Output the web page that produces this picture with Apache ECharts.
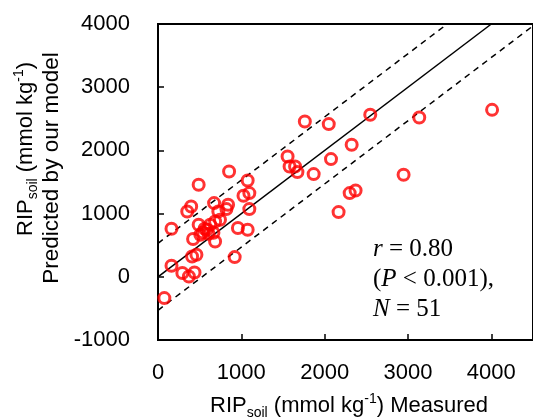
<!DOCTYPE html>
<html><head><meta charset="utf-8">
<script src="https://cdn.jsdelivr.net/npm/echarts@6/dist/echarts.min.js"></script>
<style>html,body{margin:0;padding:0;background:#fff}#c{width:533px;height:420px}</style>
</head><body><div id="c"></div>
<script>
// Measured vs predicted RIP_soil (mmol kg-1)
const measured = [1762,2049,2547,3135,4009,2324,1555,1579,1645,1673,1868,2076,2947,2300,2371,2167,
  853,488,1076,1026,1096,1096,398,351,673,841,821,724,162,488,626,685,744,959,1076,586,508,421,559,606,
  665,685,409,461,920,162,292,371,438,76,540];
const predicted = [2457,2416,2563,2521,2642,2089,1903,1745,1745,1657,1625,1862,1614,1324,1366,1024,
  1666,1456,1524,1282,1324,1071,1112,1033,1166,1139,1071,1033,760,823,823,875,902,771,744,744,665,597,760,680,
  696,559,321,348,312,174,59,5,68,-337,700];
const oneToOne = [[0,0],[4000,4000]];
const upperBound = [[0,530],[3470,4000]];
const lowerBound = [[0,-530],[4500,3970]];
const xTickValues = [0,1000,2000,3000,4000];
const yTickValues = [-1000,0,1000,2000,3000,4000];
const statR = '0.80', statP = '0.001', statN = '51';

const sans = '"Liberation Sans", Arial, sans-serif';
const serif = '"Liberation Serif", "Times New Roman", serif';
const pts = measured.map((m,i)=>[m, predicted[i]]);
const chart = echarts.init(document.getElementById('c'), null, {renderer:'canvas'});
const titleRich = {
  m:{fontSize:22, fontFamily:sans, color:'#000'},
  sub:{fontSize:14, fontFamily:sans, color:'#000', padding:[14,0,0,0]},
  sup:{fontSize:14, fontFamily:sans, color:'#000', padding:[0,0,14,0]}
};
const statRich = {
  t:{fontSize:25, fontFamily:serif, color:'#000'},
  i:{fontSize:25, fontFamily:serif, color:'#000', fontStyle:'italic'}
};
chart.setOption({
  animation:false,
  backgroundColor:'#fff',
  grid:{left:158, right:-8, top:24, bottom:80, show:true, borderColor:'#000', borderWidth:2, backgroundColor:'transparent'},
  xAxis:{type:'value', min:0, max:4500, interval:1000,
    axisLine:{onZero:false, lineStyle:{color:'#000', width:2}},
    axisTick:{inside:true, length:6, lineStyle:{color:'#000', width:1.5}},
    splitLine:{show:false},
    axisLabel:{color:'#000', fontSize:22, fontFamily:sans, margin:22, showMaxLabel:false,
      formatter:v=> xTickValues.includes(v) ? String(v) : ''}},
  yAxis:{type:'value', min:-1000, max:4000, interval:1000,
    axisLine:{onZero:false, lineStyle:{color:'#000', width:2}},
    axisTick:{inside:true, length:6, lineStyle:{color:'#000', width:1.5}},
    splitLine:{show:false},
    axisLabel:{color:'#000', fontSize:22, fontFamily:sans, margin:28,
      formatter:v=> yTickValues.includes(v) ? String(v) : ''}},
  series:[
    {type:'line', data:oneToOne, symbol:'none', lineStyle:{color:'#000', width:1.5}, z:2, silent:true},
    {type:'line', data:upperBound, symbol:'none', lineStyle:{color:'#000', width:1.5, type:[6,5]}, z:2, silent:true},
    {type:'line', data:lowerBound, symbol:'none', lineStyle:{color:'#000', width:1.5, type:[6,5]}, z:2, silent:true},
    {type:'scatter', data:pts, symbol:'circle', symbolSize:11, z:3,
      itemStyle:{color:'transparent', borderColor:'#ff0000', borderWidth:3}}
  ],
  graphic:[
    {type:'text', x:349, y:406, style:{text:'{m|RIP}{sub|soil}{m| (mmol kg}{sup|-1}{m|) Measured}', rich:titleRich, align:'center', verticalAlign:'middle'}},
    {type:'text', x:26, y:149, rotation:Math.PI/2, style:{text:'{m|RIP}{sub|soil}{m| (mmol kg}{sup|-1}{m|)}', rich:titleRich, align:'center', verticalAlign:'middle'}},
    {type:'text', x:52, y:168, rotation:Math.PI/2, style:{text:'Predicted by our model', font:'22.5px '+sans, fill:'#000', align:'center', verticalAlign:'middle'}},
    {type:'text', x:373, y:249, style:{text:'{i|r}{t| = '+statR+'}', rich:statRich, align:'left', verticalAlign:'middle'}},
    {type:'text', x:373, y:279, style:{text:'{t|(}{i|P}{t| < '+statP+'),}', rich:statRich, align:'left', verticalAlign:'middle'}},
    {type:'text', x:373, y:309, style:{text:'{i|N}{t| = '+statN+'}', rich:statRich, align:'left', verticalAlign:'middle'}}
  ]
});
</script></body></html>
